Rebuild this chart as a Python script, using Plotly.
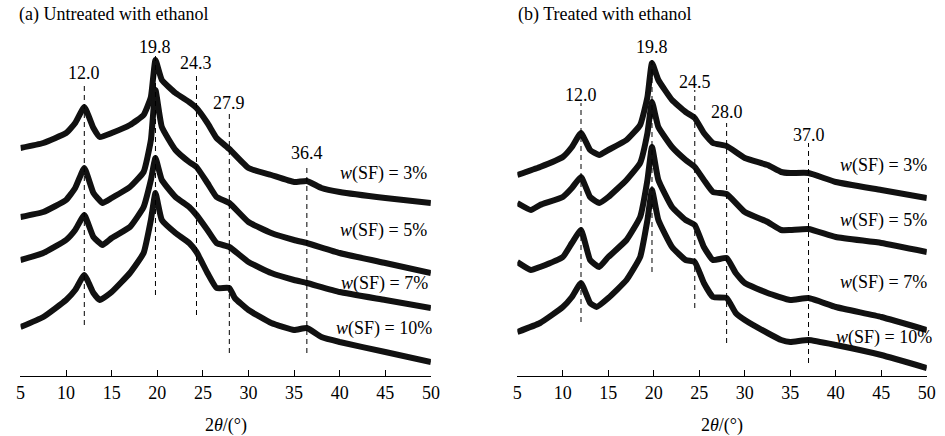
import plotly.graph_objects as go

# ---------------- data (2θ in degrees, intensity in a.u., stacked) ----------------
# Panel (a) untreated with ethanol
a_x3 = [5, 7.5, 10, 11, 12, 13, 13.7, 15, 17, 18.5, 19.3, 19.8, 20.5, 22, 23.5, 24.3, 25.5, 26.5, 27.9, 30, 32.5, 35, 36.4, 38, 40, 45, 50]
a_y3 = [228, 233, 243, 253, 269, 248, 239, 243, 251, 261, 279, 316, 296, 283, 274, 268, 253, 238, 227, 208, 201, 194, 195, 188, 184, 178, 173]

a_x5 = [5, 7.5, 10, 11, 12, 13, 14, 15, 17, 18.5, 19.3, 19.8, 20.5, 22, 23.5, 24.3, 25.5, 26.5, 27.9, 30, 32.5, 35, 36.4, 40, 45, 50]
a_y5 = [159, 164, 176, 188, 208, 183, 173, 178, 189, 204, 236, 286, 249, 226, 214, 209, 193, 179, 173, 154, 143, 136, 133, 123, 113, 103]

a_x7 = [5, 7.5, 10, 11, 12, 13, 14, 15, 17, 18.5, 19.3, 19.8, 20.5, 22, 23.5, 24.3, 25.5, 26.5, 27.9, 30, 32.5, 35, 36.4, 40, 45, 50]
a_y7 = [116, 123, 136, 146, 161, 139, 131, 138, 149, 169, 196, 218, 196, 179, 169, 161, 146, 133, 129, 114, 103, 96, 93, 84, 76, 68]

a_x10 = [5, 7.5, 10, 11, 12, 13, 13.7, 15, 17, 18.5, 19.3, 19.8, 20.5, 22, 23.5, 24.3, 25.5, 26.5, 27.9, 28.5, 30, 32.5, 35, 36.4, 38, 40, 45, 50]
a_y10 = [49, 59, 76, 86, 101, 83, 76, 84, 103, 123, 156, 183, 156, 143, 133, 124, 103, 88, 88, 78, 66, 53, 46, 48, 39, 34, 24, 14]

# Panel (b) treated with ethanol
b_x3 = [5, 7.5, 10, 11, 12, 13, 14, 15, 17, 18.5, 19.3, 19.8, 20.5, 22, 23.5, 24.5, 25.5, 26.5, 28, 30, 32.5, 34, 35, 37, 40, 45, 50]
b_y3 = [201, 209, 219, 229, 243, 226, 221, 226, 236, 251, 279, 313, 296, 276, 264, 258, 243, 233, 230, 218, 211, 204, 203, 203, 194, 186, 178]

b_x5 = [5, 6.5, 7.5, 10, 11, 12, 13, 14, 15, 17, 18.5, 19.3, 19.8, 20.5, 22, 23.5, 24.5, 25.5, 26.5, 28, 30, 32.5, 34, 35, 37, 40, 45, 50]
b_y5 = [173, 166, 171, 179, 188, 199, 179, 173, 179, 196, 213, 243, 274, 249, 229, 216, 209, 196, 184, 182, 164, 154, 146, 146, 147, 139, 133, 124]

b_x7 = [5, 6.5, 7.5, 10, 11, 12, 13, 14, 15, 17, 18.5, 19.3, 19.8, 20.5, 22, 23.5, 24.5, 25.5, 26.5, 28, 29, 30, 32.5, 35, 37, 40, 45, 50]
b_y7 = [114, 106, 109, 119, 133, 146, 116, 109, 119, 136, 159, 196, 229, 196, 169, 156, 151, 129, 116, 118, 103, 93, 83, 76, 78, 69, 59, 46]

b_x10 = [5, 7.5, 10, 11, 12, 13, 13.7, 15, 17, 18.5, 19.3, 19.8, 20.5, 22, 23.5, 24.5, 25.5, 26.5, 28, 29, 30, 32.5, 34, 35, 37, 40, 45, 50]
b_y10 = [44, 53, 69, 79, 93, 73, 69, 78, 96, 119, 156, 186, 156, 129, 116, 114, 93, 79, 78, 63, 56, 43, 36, 34, 36, 31, 21, 8]

series_labels = ["3%", "5%", "7%", "10%"]

# peak markers: position, dashed-line top, dashed-line bottom, label height
a_peaks = [12.0, 19.8, 24.3, 27.9, 36.4]
a_peak_top = [294, 320, 303, 266, 209]
a_peak_bot = [51, 81, 61, 23, 23]
a_peak_lbl = [303, 329, 313, 273, 223]

b_peaks = [12.0, 19.8, 24.5, 28.0, 37.0]
b_peak_top = [273, 320, 286, 253, 233]
b_peak_bot = [54, 104, 68, 33, 13]
b_peak_lbl = [281, 329, 294, 264, 241]

# label placement (centre x in 2θ, y in a.u.)
a_lbl_x = [44.85, 44.85, 44.95, 44.9]
a_lbl_y = [203, 146, 93, 48]
b_lbl_x = [45.2, 45.25, 45.25, 45.3]
b_lbl_y = [211, 156, 94, 39]

x_ticks = [5, 10, 15, 20, 25, 30, 35, 40, 45, 50]

# ---------------- figure ----------------
FONT = "Liberation Serif, Times New Roman, serif"
FS = 18
fig = go.Figure()

line = dict(color="#111111", width=6, shape="spline", smoothing=0.4)
for xs, ys in [(a_x3, a_y3), (a_x5, a_y5), (a_x7, a_y7), (a_x10, a_y10)]:
    fig.add_trace(go.Scatter(x=xs, y=ys, mode="lines", line=line, xaxis="x", yaxis="y",
                             showlegend=False, hoverinfo="skip"))
for xs, ys in [(b_x3, b_y3), (b_x5, b_y5), (b_x7, b_y7), (b_x10, b_y10)]:
    fig.add_trace(go.Scatter(x=xs, y=ys, mode="lines", line=line, xaxis="x2", yaxis="y2",
                             showlegend=False, hoverinfo="skip"))

shapes = []
annotations = []
for xr, yr, peaks, tops, bots, lbls in [("x", "y", a_peaks, a_peak_top, a_peak_bot, a_peak_lbl),
                                        ("x2", "y2", b_peaks, b_peak_top, b_peak_bot, b_peak_lbl)]:
    for p, t, b, l in zip(peaks, tops, bots, lbls):
        shapes.append(dict(type="line", xref=xr, yref=yr, x0=p, x1=p, y0=b, y1=t,
                           line=dict(color="black", width=1, dash="5px,4px")))
        annotations.append(dict(xref=xr, yref=yr, x=p, y=l, text=f"{p:.1f}", showarrow=False,
                                xanchor="center", yanchor="middle", font=dict(family=FONT, size=FS, color="black")))

for xr, yr, lx, ly in [("x", "y", a_lbl_x, a_lbl_y), ("x2", "y2", b_lbl_x, b_lbl_y)]:
    for s, x, y in zip(series_labels, lx, ly):
        annotations.append(dict(xref=xr, yref=yr, x=x, y=y, text=f"<i>w</i>(SF) = {s}", showarrow=False,
                                xanchor="center", yanchor="middle", font=dict(family=FONT, size=FS, color="black")))

W, H = 945, 436
annotations.append(dict(xref="paper", yref="paper", x=12 / W, y=1 - 15 / H, text="(a) Untreated with ethanol",
                        showarrow=False, xanchor="left", yanchor="middle", font=dict(family=FONT, size=FS, color="black")))
annotations.append(dict(xref="paper", yref="paper", x=519 / W, y=1 - 15 / H, text="(b) Treated with ethanol",
                        showarrow=False, xanchor="left", yanchor="middle", font=dict(family=FONT, size=FS, color="black")))
annotations.append(dict(xref="paper", yref="paper", x=224 / W, y=1 - 425 / H, text="2<i>θ</i>/(°)",
                        showarrow=False, xanchor="center", yanchor="middle", font=dict(family=FONT, size=FS, color="black")))
annotations.append(dict(xref="paper", yref="paper", x=728 / W, y=1 - 425 / H, text="2<i>θ</i>/(°)",
                        showarrow=False, xanchor="center", yanchor="middle", font=dict(family=FONT, size=FS, color="black")))

xaxis_common = dict(range=[5, 50], tickvals=x_ticks, ticks="inside", ticklen=6, tickwidth=1, tickcolor="black",
                    showline=True, linecolor="black", linewidth=1, showgrid=False, zeroline=False,
                    tickfont=dict(family=FONT, size=FS, color="black"))
y_dom = [1 - 376 / H, 1]
fig.update_layout(
    width=W, height=H, margin=dict(l=0, r=0, t=0, b=0),
    paper_bgcolor="white", plot_bgcolor="white",
    xaxis=dict(domain=[15.7 / W, 432.3 / W], anchor="y", **xaxis_common),
    xaxis2=dict(domain=[520 / W, 935.7 / W], anchor="y2", **xaxis_common),
    yaxis=dict(domain=y_dom, range=[0, 376], visible=False, anchor="x"),
    yaxis2=dict(domain=y_dom, range=[0, 376], visible=False, anchor="x2"),
    shapes=shapes, annotations=annotations,
)

fig.write_html("out.html")
